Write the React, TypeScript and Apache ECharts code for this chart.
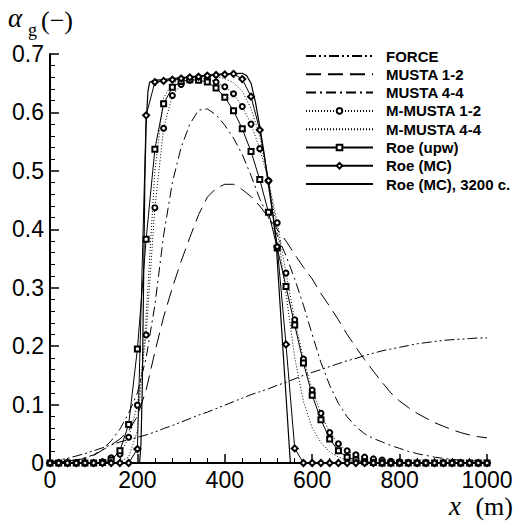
import React, { useEffect, useRef } from "react";
import * as echarts from "echarts";

// x positions (m) of the sampled points
const X = [
  0, 20, 40, 60, 80, 100, 120, 140, 160, 180, 200, 220, 240, 260, 280, 300, 320, 340, 360, 380,
  400, 420, 440, 460, 480, 500, 520, 540, 560, 580, 600, 620, 640, 660, 680, 700, 720, 740, 760,
  780, 800, 820, 840, 860, 880, 900, 920, 940, 960, 980, 1000,
];

const FORCE = [
  0.002, 0.005, 0.008, 0.012, 0.016, 0.021, 0.026, 0.031, 0.036, 0.04, 0.044, 0.048, 0.053, 0.059,
  0.064, 0.07, 0.076, 0.082, 0.087, 0.093, 0.099, 0.105, 0.111, 0.117, 0.122, 0.127, 0.133, 0.138,
  0.144, 0.15, 0.155, 0.16, 0.165, 0.17, 0.175, 0.179, 0.184, 0.188, 0.192, 0.195, 0.198, 0.201,
  0.204, 0.206, 0.208, 0.21, 0.211, 0.212, 0.213, 0.214, 0.214,
];

const MUSTA_12 = [
  0.001, 0.002, 0.003, 0.005, 0.008, 0.013, 0.022, 0.031, 0.041, 0.055, 0.08, 0.125, 0.19, 0.25,
  0.3, 0.345, 0.386, 0.425, 0.455, 0.47, 0.477, 0.477, 0.468, 0.456, 0.44, 0.42, 0.4, 0.38, 0.357,
  0.335, 0.315, 0.29, 0.268, 0.245, 0.22, 0.198, 0.177, 0.157, 0.138, 0.12, 0.106, 0.095, 0.085,
  0.077, 0.069, 0.063, 0.057, 0.052, 0.048, 0.045, 0.043,
];

const MUSTA_44 = [
  0.001, 0.002, 0.003, 0.005, 0.009, 0.014, 0.023, 0.038, 0.058, 0.085, 0.12, 0.18, 0.27, 0.39,
  0.48, 0.54, 0.58, 0.604, 0.606, 0.596, 0.578, 0.556, 0.528, 0.492, 0.452, 0.42, 0.39, 0.355,
  0.315, 0.27, 0.22, 0.172, 0.133, 0.102, 0.079, 0.062, 0.05, 0.042, 0.036, 0.03, 0.025, 0.02,
  0.016, 0.013, 0.01, 0.008, 0.006, 0.005, 0.004, 0.003, 0.003,
];

const M_MUSTA_12 = [
  0, 0, 0, 0, 0, 0, 0.002, 0.009, 0.015, 0.044, 0.099, 0.219, 0.437, 0.573, 0.629, 0.648, 0.655,
  0.659, 0.658, 0.652, 0.644, 0.632, 0.61, 0.58, 0.538, 0.483, 0.411, 0.325, 0.245, 0.178, 0.125,
  0.085, 0.052, 0.033, 0.021, 0.014, 0.01, 0.007, 0.005, 0.003, 0.002, 0.001, 0, 0, 0, 0, 0, 0, 0,
  0, 0,
];

const M_MUSTA_44 = [
  0, 0, 0, 0, 0, 0, 0, 0, 0.002, 0.01, 0.055, 0.25, 0.5, 0.625, 0.65, 0.657, 0.66, 0.662, 0.662,
  0.661, 0.658, 0.651, 0.636, 0.607, 0.56, 0.48, 0.4, 0.29, 0.18, 0.105, 0.06, 0.035, 0.019, 0.01,
  0.005, 0.002, 0.001, 0, 0, 0, 0, 0, 0, 0, 0, 0, 0, 0, 0, 0, 0,
];

const ROE_UPW = [
  0, 0, 0, 0, 0, 0, 0.001, 0.005, 0.021, 0.066, 0.195, 0.383, 0.537, 0.615, 0.643, 0.653, 0.656,
  0.655, 0.652, 0.642, 0.626, 0.603, 0.572, 0.533, 0.485, 0.429, 0.368, 0.302, 0.236, 0.171, 0.116,
  0.074, 0.041, 0.021, 0.01, 0.005, 0.002, 0.001, 0, 0, 0, 0, 0, 0, 0, 0, 0, 0, 0, 0, 0,
];

const ROE_MC = [
  0, 0, 0, 0, 0, 0, 0, 0, 0, 0, 0.024, 0.595, 0.652, 0.654, 0.656, 0.658, 0.66, 0.661, 0.663, 0.664,
  0.665, 0.666, 0.657, 0.627, 0.57, 0.483, 0.37, 0.203, 0.025, 0, 0, 0, 0, 0, 0, 0, 0, 0, 0, 0, 0,
  0, 0, 0, 0, 0, 0, 0, 0, 0, 0,
];

// fine-mesh reference solution
const X_3200 = [
  0, 205, 208, 211, 214, 217, 220, 224, 228, 240, 280, 320, 360, 400, 440, 450, 460, 470, 480, 490,
  500, 510, 517, 530, 540, 550, 1000,
];
const ROE_MC_3200 = [
  0, 0, 0.03, 0.12, 0.3, 0.48, 0.58, 0.635, 0.652, 0.655, 0.658, 0.661, 0.664, 0.666, 0.667, 0.663,
  0.65, 0.618, 0.576, 0.53, 0.475, 0.425, 0.382, 0.23, 0.116, 0, 0,
];

const X_TICKS = { min: 0, max: 1000, interval: 200 };
const Y_TICKS = { min: 0, max: 0.7, interval: 0.1 };

const LEGEND = [
  "FORCE",
  "MUSTA 1-2",
  "MUSTA 4-4",
  "M-MUSTA 1-2",
  "M-MUSTA 4-4",
  "Roe (upw)",
  "Roe (MC)",
  "Roe (MC), 3200 c.",
];
// which legend entries carry a marker
const HAS_MARKER = [false, false, false, true, false, true, true, false];

const pairs = (xs: number[], ys: number[]) => xs.map((x, i) => [x, ys[i]]);

export default function App() {
  const ref = useRef<HTMLDivElement>(null);

  useEffect(() => {
    if (!ref.current) return;
    const chart = echarts.init(ref.current, undefined, { renderer: "svg" });

    const lineSeries = (
      name: string,
      data: number[][],
      type: any,
      symbol: string,
      symbolSize: number,
      width = 1
    ) => ({
      name,
      type: "line",
      data,
      symbol,
      symbolSize,
      showSymbol: symbol !== "none",
      showAllSymbol: true,
      color: "#000",
      itemStyle: { color: "#000", borderWidth: 1 },
      lineStyle: { color: "#000", width, type },
      emphasis: { disabled: true },
      silent: true,
    });

    const serif = "'Liberation Serif', 'DejaVu Serif', serif";
    const sans = "'Liberation Sans', Arial, sans-serif";

    const option: any = {
      animation: false,
      backgroundColor: "#fff",
      grid: { left: 50, right: 28, top: 54, bottom: 62, outerBoundsMode: "none" },
      xAxis: {
        type: "value",
        ...X_TICKS,
        axisLine: { lineStyle: { color: "#000", width: 2 } },
        axisTick: { inside: true, length: 9, lineStyle: { color: "#000", width: 1.5 } },
        minorTick: { show: true, splitNumber: 5, length: 5, lineStyle: { color: "#000", width: 1 } },
        splitLine: { show: false },
        axisLabel: {
          color: "#000",
          fontFamily: sans,
          fontSize: 23,
          margin: 5,
          formatter: (v: number) => String(v),
        },
      },
      yAxis: {
        type: "value",
        ...Y_TICKS,
        axisLine: { show: true, lineStyle: { color: "#000", width: 2 } },
        axisTick: { show: true, inside: true, length: 9, lineStyle: { color: "#000", width: 1.5 } },
        minorTick: { show: true, splitNumber: 5, length: 5, lineStyle: { color: "#000", width: 1 } },
        splitLine: { show: false },
        axisLabel: {
          color: "#000",
          fontFamily: sans,
          fontSize: 23,
          margin: 6,
          formatter: (v: number) => (v === 0 ? "0" : v.toFixed(1)),
        },
      },
      legend: {
        data: LEGEND.map((name, i) =>
          HAS_MARKER[i] ? { name } : { name, itemStyle: { opacity: 0 } }
        ),
        orient: "vertical",
        left: 305,
        top: 48,
        padding: 0,
        itemWidth: 67,
        itemHeight: 7,
        itemGap: 2.3,
        selectedMode: false,
        textStyle: {
          color: "#000",
          fontFamily: sans,
          fontWeight: "bold",
          fontSize: 15,
          lineHeight: 16,
          padding: [0, 0, 0, 8],
        },
      },
      graphic: [
        {
          type: "text",
          x: 8,
          y: 18,
          style: {
            text: "α",
            font: `italic 27px ${serif}`,
            fill: "#000",
            verticalAlign: "middle",
          },
        },
        {
          type: "text",
          x: 28,
          y: 30,
          style: { text: "g", font: `18px ${serif}`, fill: "#000", verticalAlign: "middle" },
        },
        {
          type: "text",
          x: 41,
          y: 20,
          style: { text: "(−)", font: `26px ${serif}`, fill: "#000", verticalAlign: "middle" },
        },
        {
          type: "text",
          x: 449,
          y: 506,
          style: { text: "x", font: `italic 27px ${serif}`, fill: "#000", verticalAlign: "middle" },
        },
        {
          type: "text",
          x: 513,
          y: 506,
          style: {
            text: "(m)",
            font: `26px ${serif}`,
            fill: "#000",
            verticalAlign: "middle",
            align: "right",
          },
        },
      ],
      series: [
        lineSeries(LEGEND[0], pairs(X, FORCE), [10, 3, 2, 3, 2, 3], "none", 0),
        lineSeries(LEGEND[1], pairs(X, MUSTA_12), [15, 7], "none", 0),
        lineSeries(LEGEND[2], pairs(X, MUSTA_44), [10, 4, 2, 4], "none", 0),
        lineSeries(LEGEND[3], pairs(X, M_MUSTA_12), [1, 2], "emptyCircle", 5),
        lineSeries(LEGEND[4], pairs(X, M_MUSTA_44), [1, 2], "none", 0),
        lineSeries(LEGEND[5], pairs(X, ROE_UPW), "solid", "emptyRect", 5),
        lineSeries(LEGEND[6], pairs(X, ROE_MC), "solid", "emptyDiamond", 6),
        lineSeries(LEGEND[7], pairs(X_3200, ROE_MC_3200), "solid", "none", 0, 1.2),
      ],
    };

    chart.setOption(option);
    return () => chart.dispose();
  }, []);

  return (
    <div
      ref={ref}
      style={{ position: "fixed", left: 0, top: 0, width: 515, height: 525, background: "#fff" }}
    />
  );
}
